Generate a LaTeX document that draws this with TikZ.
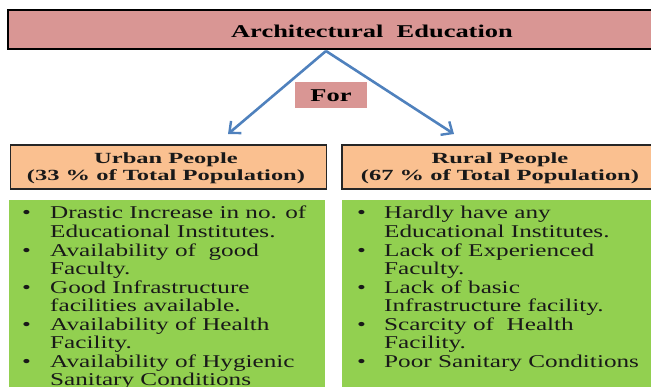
\documentclass[tikz,border=0pt]{standalone}
\usepackage{fontspec}
\setmainfont{Liberation Serif}
\newfontfamily\widefont[FakeStretch=1.4]{Liberation Serif}
\newfontfamily\headfont[FakeStretch=1.47]{Liberation Serif}
\newfontfamily\subfont[FakeStretch=1.58]{Liberation Serif}
\usetikzlibrary{arrows.meta}
\definecolor{pinkbar}{HTML}{D99694}
\definecolor{orangebox}{HTML}{FAC090}
\definecolor{greenbox}{HTML}{92D050}
\definecolor{bluearrow}{HTML}{4F81BD}
\tikzset{
  titlebar/.style={draw=black, line width=1.6pt, fill=pinkbar, inner sep=0pt},
  forbox/.style={fill=pinkbar, minimum width=72pt, minimum height=26pt, inner sep=0pt},
  headbox/.style={draw=black!85, line width=1.2pt, fill=orangebox, minimum height=44pt, minimum width=316pt, inner sep=0pt},
  headtext/.style={inner sep=0pt, align=center, font=\subfont\fontsize{15.5}{17}\selectfont\bfseries, text=black!90},
  listbox/.style={fill=greenbox, minimum width=316pt, minimum height=200pt, inner sep=0pt, anchor=north west},
  listtext/.style={inner sep=0pt, anchor=base west, text=black!90},
  connector/.style={draw=bluearrow, line width=2.6pt, -{Straight Barb[length=9pt,width=16pt,line width=2.4pt]}},
}
\newcommand{\bitem}{\makebox[28pt][l]{\textbullet}}
\begin{document}
\begin{tikzpicture}[x=1pt,y=-1pt]
\useasboundingbox (0,0) rectangle (651,387);
\clip (0,0) rectangle (651,387);
% title bar
\node[titlebar, minimum width=730pt, minimum height=39pt] (title) at (373,29.5) {};
\node[inner sep=0pt, anchor=base] (titletext) at (372,38) {\headfont\fontsize{18}{18}\selectfont\bfseries Architectural\ \ Education};
% connectors
\coordinate (apex) at (326,51);
\coordinate (ltip) at (228,134);
\coordinate (rtip) at (454,134);
\draw[connector] (apex) -- (ltip);
\draw[connector] (apex) -- (rtip);
\node[forbox] (for) at (331,95) {};
\node[inner sep=0pt, anchor=base] (fortext) at (331,102) {\headfont\fontsize{18}{18}\selectfont\bfseries For};
% headers
\node[headbox] (urban) at (168.5,167) {};
\node[headtext] (urbantext) at (166,168) {Urban People\\ (33 \% of Total Population)};
\node[headbox] (rural) at (500,167) {};
\node[headtext] (ruraltext) at (500,168) {Rural People\\ (67 \% of Total Population)};
% lists
\node[listbox] (urbanlist) at (9,200) {};
\node[listbox] (rurallist) at (342,200) {};
\node[listtext] (urbanitems) at (22,219) {\widefont\fontsize{18}{18.55}\selectfont
\begin{tabular}[t]{@{}l@{}l@{}}
\bitem & Drastic Increase in no. of\\
 & Educational Institutes.\\
\bitem & Availability of \ good\\
 & Faculty.\\
\bitem & Good Infrastructure\\
 & facilities available.\\
\bitem & Availability of Health\\
 & Facility.\\
\bitem & Availability of Hygienic\\
 & Sanitary Conditions
\end{tabular}};
\node[listtext] (ruralitems) at (357,219) {\widefont\fontsize{18}{18.55}\selectfont
\begin{tabular}[t]{@{}l@{}l@{}}
\makebox[27pt][l]{\textbullet} & Hardly have any\\
 & Educational Institutes.\\
\makebox[27pt][l]{\textbullet} & Lack of Experienced\\
 & Faculty.\\
\makebox[27pt][l]{\textbullet} & Lack of basic\\
 & Infrastructure facility.\\
\makebox[27pt][l]{\textbullet} & Scarcity of \ Health\\
 & Facility.\\
\makebox[27pt][l]{\textbullet} & Poor Sanitary Conditions
\end{tabular}};
\end{tikzpicture}
\end{document}
